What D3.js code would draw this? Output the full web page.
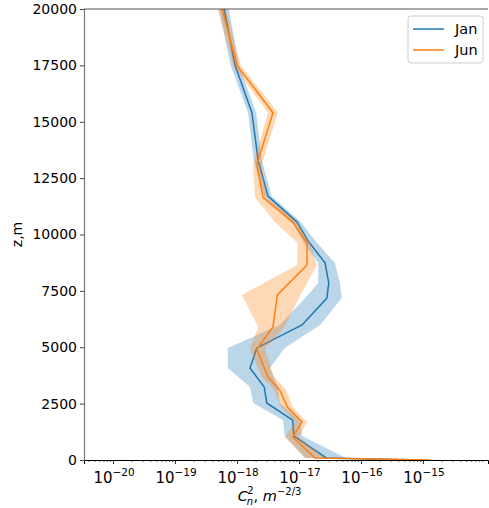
<!DOCTYPE html>
<html>
<head>
<meta charset="utf-8">
<script src="https://cdn.jsdelivr.net/npm/d3@7"></script>
<style>
  body { margin: 0; background: #fff; }
  svg { display: block; font-family: "DejaVu Sans", sans-serif; }
</style>
</head>
<body>
<div id="chart"></div>
<script>
// altitude levels (m) and Cn2 values
const janZ  = [20000, 17500, 15400, 13300, 11700, 10550, 9700, 8740, 7850, 7180, 5990, 4970, 4080, 3240, 2530, 1770, 1060, 90, 0];
const janMid = [6.2e-19, 9.3e-19, 1.74e-18, 2.19e-18, 3.16e-18, 9.3e-18, 1.41e-17, 2.63e-17, 3.02e-17, 2.82e-17, 1.12e-17, 2.09e-18, 1.62e-18, 2.75e-18, 3.02e-18, 7.9e-18, 8.3e-18, 2.75e-17, 8.9e-16];
const janLo  = [5.1e-19, 7.9e-19, 1.51e-18, 1.86e-18, 2.75e-18, 7.9e-18, 1.15e-17, 2.04e-17, 2.04e-17, 1.26e-17, 4.9e-18, 7.1e-19, 7.1e-19, 1.62e-18, 1.82e-18, 5.5e-18, 5.9e-18, 1.26e-17, 7.4e-16];
const janHi  = [7.4e-19, 1.07e-18, 2.04e-18, 2.51e-18, 3.63e-18, 1.07e-17, 1.86e-17, 3.8e-17, 4.57e-17, 4.9e-17, 2.19e-17, 5.9e-18, 3.39e-18, 4.57e-18, 4.9e-18, 1.05e-17, 1.12e-17, 5.75e-17, 2.45e-15];

const junZ  = [20000, 17500, 15400, 13100, 11650, 10550, 9620, 8650, 7320, 5900, 4920, 3680, 3100, 2350, 1690, 1020, 90, 0];
const junMid = [5.75e-19, 1.0e-18, 3.8e-18, 2.09e-18, 2.63e-18, 7.9e-18, 1.35e-17, 1.35e-17, 4.47e-18, 3.8e-18, 2.09e-18, 3.16e-18, 4.9e-18, 6.5e-18, 1.12e-17, 7.9e-18, 1.82e-17, 1.29e-15];
const junLo  = [4.9e-19, 8.7e-19, 3.16e-18, 1.82e-18, 1.95e-18, 4.07e-18, 9.5e-18, 9.3e-18, 1.2e-18, 2.19e-18, 1.62e-18, 2.51e-18, 3.98e-18, 5.1e-18, 8.7e-18, 5.9e-18, 1.26e-17, 1.07e-15];
const junHi  = [6.6e-19, 1.15e-18, 4.57e-18, 2.51e-18, 3.02e-18, 9.3e-18, 1.51e-17, 1.95e-17, 1.05e-17, 5.9e-18, 2.82e-18, 3.98e-18, 6.2e-18, 7.9e-18, 1.35e-17, 1.0e-17, 2.63e-17, 1.7e-15];

const yTicks = [0, 2500, 5000, 7500, 10000, 12500, 15000, 17500, 20000];
const xExponents = [-20, -19, -18, -17, -16, -15];

const series = [
  { name: "Jan", color: "#1f77b4", z: janZ, mid: janMid, lo: janLo, hi: janHi },
  { name: "Jun", color: "#ff7f0e", z: junZ, mid: junMid, lo: junLo, hi: junHi }
];

const W = 489, H = 508;
const margin = { top: 9, right: 1, bottom: 48, left: 84 };
const width = W - margin.left - margin.right;
const height = H - margin.top - margin.bottom;

const svg = d3.select("#chart").append("svg")
  .attr("width", W)
  .attr("height", H);

const g = svg.append("g")
  .attr("transform", `translate(${margin.left},${margin.top})`);

const x = d3.scaleLog().domain([3.4e-21, 1.12e-14]).range([0, width]);
const y = d3.scaleLinear().domain([0, 20000]).range([height, 0]);

// bands + lines
series.forEach(s => {
  const pts = s.z.map((z, i) => ({ z: z, mid: s.mid[i], lo: s.lo[i], hi: s.hi[i] }));
  const area = d3.area()
    .y(d => y(d.z))
    .x0(d => x(d.lo))
    .x1(d => x(d.hi));
  const line = d3.line()
    .x(d => x(d.mid))
    .y(d => y(d.z));
  g.append("path")
    .datum(pts)
    .attr("d", area)
    .attr("fill", s.color)
    .attr("fill-opacity", 0.3);
  g.append("path")
    .datum(pts)
    .attr("d", line)
    .attr("fill", "none")
    .attr("stroke", s.color)
    .attr("stroke-width", 1.5);
});

// minor ticks on the log axis
let minor = [];
for (let e = -21; e <= -14; e++) {
  for (let k = 2; k <= 9; k++) {
    const v = k * Math.pow(10, e);
    if (v > x.domain()[0] && v < x.domain()[1]) minor.push(v);
  }
}
g.append("g")
  .attr("transform", `translate(0,${height})`)
  .call(d3.axisBottom(x).tickValues(minor).tickSize(2).tickFormat(""))
  .call(a => a.select(".domain").remove())
  .call(a => a.selectAll("line").attr("stroke", "#000").attr("stroke-width", 0.6));

// major ticks
const xAxis = g.append("g")
  .attr("transform", `translate(0,${height})`)
  .call(d3.axisBottom(x).tickValues(xExponents.map(e => Math.pow(10, e))).tickSize(4).tickFormat(""));
xAxis.select(".domain").attr("stroke", "#000").attr("stroke-width", 1);
xAxis.selectAll("line").attr("stroke", "#000").attr("stroke-width", 0.8);

xExponents.forEach(e => {
  const t = g.append("text")
    .attr("x", x(Math.pow(10, e)) + 1)
    .attr("y", height + 23)
    .attr("text-anchor", "middle")
    .attr("font-size", 15)
    .attr("fill", "#000");
  t.append("tspan").text("10");
  t.append("tspan").attr("dy", -7).attr("font-size", 10.5).text("\u2212" + Math.abs(e));
});

// y axis
const yAxis = g.append("g")
  .call(d3.axisLeft(y).tickValues(yTicks).tickSize(4).tickPadding(3).tickFormat(d3.format("d")));
yAxis.select(".domain").attr("stroke", "#777").attr("stroke-width", 1.2);
yAxis.selectAll("line").attr("stroke", "#444");
yAxis.selectAll("text")
  .attr("font-size", 14)
  .attr("font-family", "DejaVu Sans")
  .attr("fill", "#000");

// top spine
g.append("line")
  .attr("x1", 0).attr("x2", width)
  .attr("y1", 0).attr("y2", 0)
  .attr("stroke", "#555")
  .attr("stroke-width", 1);

// axis labels
const xl = svg.append("text")
  .attr("x", margin.left + x(3e-18) + 3)
  .attr("y", 501)
  .attr("text-anchor", "middle")
  .attr("font-size", 14.5)
  .attr("fill", "#000");
xl.append("tspan").attr("font-style", "italic").text("C");
xl.append("tspan").attr("font-style", "italic").attr("font-size", 10).attr("dy", 4).attr("dx", -1).text("n");
xl.append("tspan").attr("font-size", 10).attr("dy", -11).attr("dx", -6).text("2");
xl.append("tspan").attr("dy", 7).text(", ");
xl.append("tspan").attr("font-style", "italic").text("m");
xl.append("tspan").attr("font-size", 10).attr("dy", -6).text("\u22122/3");

svg.append("text")
  .attr("transform", `translate(22,${margin.top + height / 2}) rotate(-90)`)
  .attr("text-anchor", "middle")
  .attr("font-size", 14)
  .attr("fill", "#000")
  .text("z,m");

// legend
const lg = svg.append("g").attr("transform", "translate(408,16)");
lg.append("rect")
  .attr("width", 75).attr("height", 47)
  .attr("rx", 3)
  .attr("fill", "#fff").attr("fill-opacity", 0.8)
  .attr("stroke", "#ccc");
series.forEach((s, i) => {
  const yy = 13 + i * 21;
  lg.append("line")
    .attr("x1", 5).attr("x2", 36)
    .attr("y1", yy).attr("y2", yy)
    .attr("stroke", s.color).attr("stroke-width", 1.5);
  lg.append("text")
    .attr("x", 47).attr("y", yy + 5)
    .attr("font-size", 14.5)
    .attr("fill", "#000")
    .text(s.name);
});
</script>
</body>
</html>
